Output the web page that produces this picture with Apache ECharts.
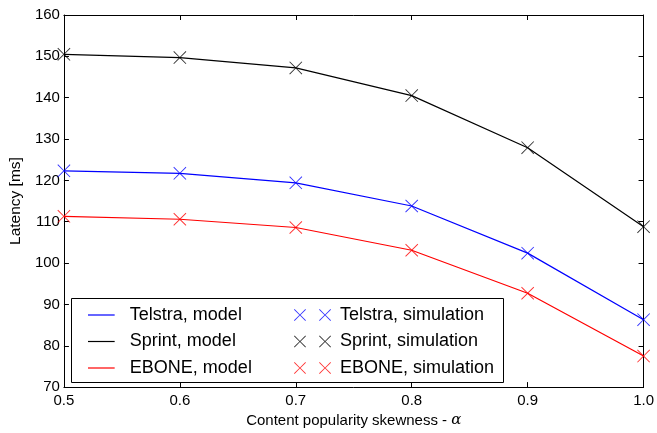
<!DOCTYPE html>
<html>
<head>
<meta charset="utf-8">
<script src="https://cdn.jsdelivr.net/npm/echarts@6/dist/echarts.min.js"></script>
<style>html,body{margin:0;padding:0;background:#fff}#c{width:657px;height:433px}</style>
</head>
<body>
<div id="c"></div>
<script>
const alphas = [0.5, 0.6, 0.7, 0.8, 0.9, 1.0];
const telstraModel = [122.3, 121.7, 119.4, 113.8, 102.4, 86.3];
const sprintModel  = [150.5, 149.7, 147.2, 140.5, 127.9, 108.8];
const eboneModel   = [111.3, 110.6, 108.6, 103.1, 92.7, 77.5];
const telstraSim   = [122.3, 121.7, 119.4, 113.8, 102.4, 86.3];
const sprintSim    = [150.5, 149.7, 147.2, 140.5, 127.9, 108.8];
const eboneSim     = [111.3, 110.6, 108.6, 103.1, 92.7, 77.5];
const yTicks = [70, 80, 90, 100, 110, 120, 130, 140, 150, 160];
const xTicks = [0.5, 0.6, 0.7, 0.8, 0.9, 1.0];

const FONT = '"Liberation Sans", Arial, sans-serif';
const X = 'path://M0,5L5,0L50,45L95,0L100,5L55,50L100,95L95,100L50,55L5,100L0,95L45,50Z';
const XX = 'path://M0,5L5,0L50,45L95,0L100,5L55,50L100,95L95,100L50,55L5,100L0,95L45,50Z' +
           'M210,5L215,0L260,45L305,0L310,5L265,50L310,95L305,100L260,55L215,100L210,95L255,50Z';
const BAR = 'path://M0,0L100,0L100,4.5L0,4.5Z';
const pts = v => alphas.map((a, i) => [a, v[i]]);

function lineS(name, data, color) {
  return { name, type: 'line', data: pts(data), symbol: 'none', showSymbol: false,
    lineStyle: { color, width: 1.2 }, itemStyle: { color }, clip: true, z: 2 };
}
function simS(name, data, color) {
  return { name, type: 'scatter', data: pts(data), symbol: X, symbolSize: 13,
    itemStyle: { color }, clip: true, z: 3 };
}

const axisBase = {
  axisLine: { show: true, lineStyle: { color: '#000', width: 1 } },
  axisTick: { show: true, inside: true, length: 5, lineStyle: { color: '#000' } },
  splitLine: { show: false }
};

const chart = echarts.init(document.getElementById('c'), null, { renderer: 'canvas' });
chart.setOption({
  animation: false,
  backgroundColor: '#fff',
  grid: { left: 62, right: 12, top: 15, bottom: 42 },
  xAxis: [
    Object.assign({}, axisBase, {
      type: 'value', min: 0.5, max: 1.0, interval: 0.1, position: 'bottom',
      name: 'Content popularity skewness - {a|α}', nameLocation: 'middle', nameGap: 22,
      nameTextStyle: { fontFamily: FONT, fontSize: 15, color: '#000',
        rich: { a: { fontFamily: '"DejaVu Serif", serif', fontStyle: 'italic', fontSize: 15 } } },
      axisLabel: { fontFamily: FONT, fontSize: 15, color: '#000', margin: 6,
        formatter: v => (Math.round(v * 10) / 10).toFixed(1) }
    }),
    Object.assign({}, axisBase, {
      type: 'value', min: 0.5, max: 1.0, interval: 0.1, position: 'top',
      axisLabel: { show: false }
    })
  ],
  yAxis: [
    Object.assign({}, axisBase, {
      type: 'value', min: 70, max: 160, interval: 10, position: 'left',
      name: 'Latency [ms]', nameLocation: 'middle', nameGap: 28,
      nameTextStyle: { fontFamily: FONT, fontSize: 15.5, color: '#000' },
      axisLabel: { fontFamily: FONT, fontSize: 15, color: '#000', margin: 4 }
    }),
    Object.assign({}, axisBase, {
      type: 'value', min: 70, max: 160, interval: 10, position: 'right',
      axisLabel: { show: false }
    })
  ],
  graphic: [{
    type: 'rect', left: 71, top: 298, z: 50,
    shape: { width: 432, height: 84 },
    style: { fill: '#fff', stroke: '#000', lineWidth: 1 }
  }],
  legend: [
    { orient: 'vertical', left: 83, top: 301, itemWidth: 27, itemHeight: 1.2, itemGap: 8.5,
      z: 60, selectedMode: false,
      textStyle: { fontFamily: FONT, fontSize: 18, color: '#000', lineHeight: 18, padding: [0, 0, 0, 10] },
      data: [{ name: 'Telstra, model', icon: BAR }, { name: 'Sprint, model', icon: BAR },
             { name: 'EBONE, model', icon: BAR }] },
    { orient: 'vertical', left: 289, top: 301, itemWidth: 37, itemHeight: 12, itemGap: 8.5,
      z: 60, selectedMode: false,
      textStyle: { fontFamily: FONT, fontSize: 18, color: '#000', lineHeight: 18, padding: [0, 0, 0, 4] },
      data: [{ name: 'Telstra, simulation', icon: XX }, { name: 'Sprint, simulation', icon: XX },
             { name: 'EBONE, simulation', icon: XX }] }
  ],
  series: [
    lineS('Telstra, model', telstraModel, '#0000ff'),
    lineS('Sprint, model', sprintModel, '#000000'),
    lineS('EBONE, model', eboneModel, '#ff0000'),
    simS('Telstra, simulation', telstraSim, '#0000ff'),
    simS('Sprint, simulation', sprintSim, '#000000'),
    simS('EBONE, simulation', eboneSim, '#ff0000')
  ]
});
</script>
</body>
</html>
